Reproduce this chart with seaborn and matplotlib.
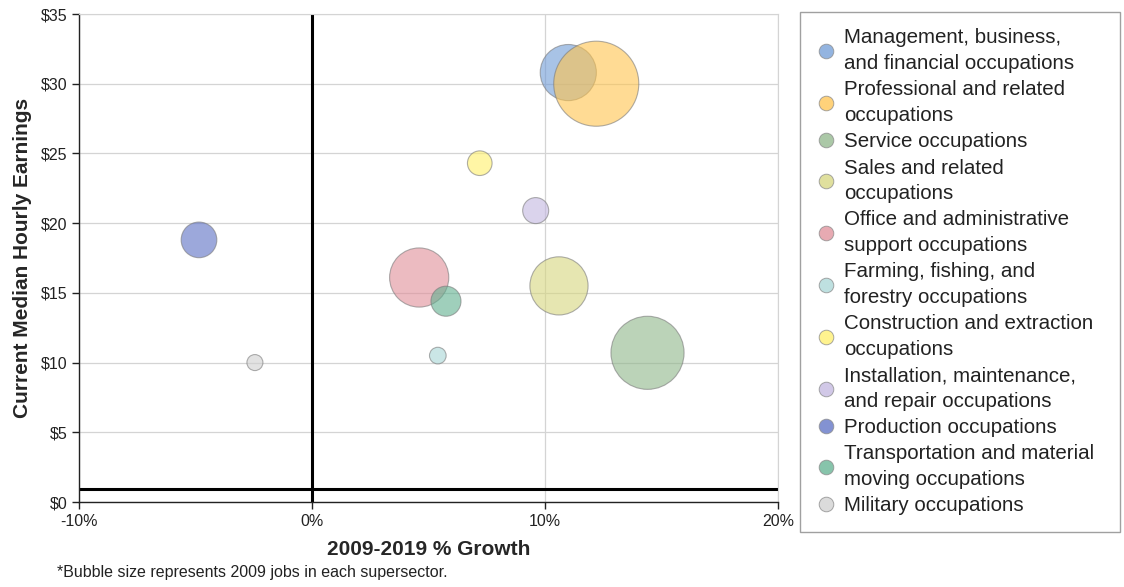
import matplotlib
matplotlib.use('Agg')
import matplotlib.pyplot as plt
from matplotlib.lines import Line2D
from matplotlib.ticker import FuncFormatter, MultipleLocator
import pandas as pd
import seaborn as sns

# 数据
occupations = [
    "Management, business,\nand financial occupations",
    "Professional and related\noccupations",
    "Service occupations",
    "Sales and related\noccupations",
    "Office and administrative\nsupport occupations",
    "Farming, fishing, and\nforestry occupations",
    "Construction and extraction\noccupations",
    "Installation, maintenance,\nand repair occupations",
    "Production occupations",
    "Transportation and material\nmoving occupations",
    "Military occupations",
]
growth_pct = [11.0, 12.2, 14.4, 10.6, 4.6, 5.4, 7.2, 9.6, -4.85, 5.75, -2.45]
median_wage = [30.8, 30.0, 10.7, 15.5, 16.1, 10.5, 24.3, 20.9, 18.8, 14.4, 10.0]
jobs_2009 = [13500, 31000, 22900, 14500, 15000, 1190, 2600, 2900, 5450, 3870, 1100]

colors = ["#6f9bd6", "#ffc44d", "#8fb68a", "#d6d67e", "#e08e99", "#a8d6d6",
          "#fff06a", "#c2b6e0", "#5a6ec4", "#5fb08f", "#cfcfcf"]

df = pd.DataFrame({
    "occupation": occupations,
    "growth": growth_pct,
    "wage": median_wage,
    "jobs": jobs_2009,
})

sns.set_style("white")
plt.rcParams['font.family'] = ['Liberation Sans', 'DejaVu Sans']

fig = plt.figure(figsize=(11.24, 5.87), dpi=100)
ax = fig.add_axes([79 / 1124, 1 - 502 / 587, (778 - 79) / 1124, (502 - 14) / 587])

sns.scatterplot(
    data=df, x="growth", y="wage", hue="occupation", size="jobs",
    palette=dict(zip(occupations, colors)),
    sizes=(0, 3750), size_norm=(0, max(jobs_2009)),
    alpha=0.6, edgecolor="#7a7a7a", linewidth=0.8,
    legend=False, ax=ax, zorder=3,
)

ax.set_xlim(-10, 20)
ax.set_ylim(0, 35)
ax.xaxis.set_major_locator(MultipleLocator(10))
ax.yaxis.set_major_locator(MultipleLocator(5))
ax.xaxis.set_major_formatter(FuncFormatter(lambda v, p: f"{v:.0f}%"))
ax.yaxis.set_major_formatter(FuncFormatter(lambda v, p: f"${v:.0f}"))
ax.grid(True, color="#d4d4d4", linewidth=0.9)
ax.set_axisbelow(True)

# 参考线
ax.axvline(0, color="black", linewidth=2.2, zorder=2)
ax.axhline(0.9, color="black", linewidth=2.2, zorder=2)

for side in ["top", "right"]:
    ax.spines[side].set_color("#d4d4d4")
for side in ["left", "bottom"]:
    ax.spines[side].set_color("#222222")
    ax.spines[side].set_linewidth(1.0)
ax.tick_params(axis="both", direction="out", length=5, width=1, color="#222222",
               labelsize=11.5, labelcolor="#222222", bottom=True, left=True)

ax.set_xlabel("2009-2019 % Growth", fontsize=15, fontweight="bold", labelpad=8)
ax.set_ylabel("Current Median Hourly Earnings", fontsize=15, fontweight="bold", labelpad=6)

handles = [Line2D([0], [0], marker="o", linestyle="", markersize=10.5,
                  markerfacecolor=c, markeredgecolor="#8a8a8a", markeredgewidth=0.7,
                  alpha=0.75)
           for c in colors]
leg = fig.legend(handles, occupations, loc="upper left",
                 bbox_to_anchor=(800 / 1124, 1 - 537 / 587, 320 / 1124, 525 / 587),
                 mode="expand", borderaxespad=0,
                 frameon=True, fancybox=False, edgecolor="#888888",
                 fontsize=14.8, labelspacing=0.35, handletextpad=0.45,
                 handlelength=0.9, borderpad=0.8, labelcolor="#222222")
leg.get_frame().set_linewidth(1.0)
for t in leg.get_texts():
    t.set_linespacing(1.45)

fig.text(57 / 1124, 1 - 572 / 587,
         "*Bubble size represents 2009 jobs in each supersector.",
         fontsize=11.5, color="#222222", va="center")

fig.savefig("out.png", dpi=100)
